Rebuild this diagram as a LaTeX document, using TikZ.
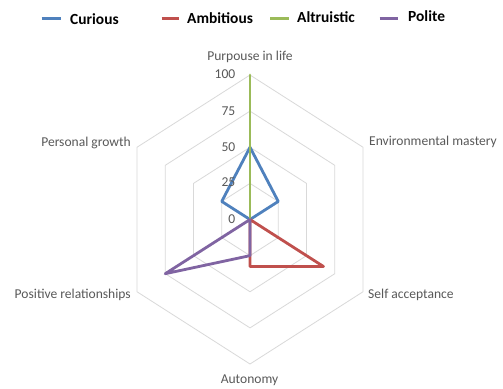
\documentclass[tikz,border=0pt]{standalone}
\usepackage{fontspec}
\setmainfont{Carlito}
\definecolor{sCur}{HTML}{4F81BD}
\definecolor{sAmb}{HTML}{C0504D}
\definecolor{sAlt}{HTML}{9BBB59}
\definecolor{sPol}{HTML}{8064A2}
\definecolor{gridc}{HTML}{D9D9D9}
\definecolor{labc}{HTML}{595959}
\tikzset{
  gridline/.style={draw=gridc, line width=0.8bp, line join=miter},
  series/.style={line width=2.8bp, line join=round, line cap=round},
  axlab/.style={text=labc, font=\fontsize{13.6}{15}\selectfont, inner sep=0pt},
  numlab/.style={text=labc, font=\fontsize{13.6}{15}\selectfont, inner sep=0pt, anchor=east},
  leglab/.style={font=\bfseries\fontsize{15.5}{17}\selectfont, inner sep=0pt, anchor=base west},
  legline/.style={line width=2.8bp}
}
\begin{document}
\begin{tikzpicture}[x=1bp, y=-1bp]
\useasboundingbox (0,0) rectangle (503,388);
\fill[white] (0,0) rectangle (503,388);
\begin{scope}[shift={(250bp,-219.5bp)}, x=1.13bp, y=1.445bp]
  % axis directions: P(0,1) E(1,.5) S(1,-.5) A(0,-1) R(-1,-.5) G(-1,.5)
  \foreach \L in {25,50,75,100}{
    \draw[gridline] (0,\L) -- (\L,0.5*\L) -- (\L,-0.5*\L) -- (0,-\L) -- (-\L,-0.5*\L) -- (-\L,0.5*\L) -- cycle;
  }
  \coordinate (c) at (0,0);
  % Curious
  \coordinate (cuP) at (0,50);
  \coordinate (cuE) at (25,12.5);
  \coordinate (cuG) at (-25,12.5);
  % Ambitious
  \coordinate (amS) at (65,-32.5);
  \coordinate (amA) at (0,-32.5);
  % Altruistic
  \coordinate (alP) at (0,100);
  % Polite
  \coordinate (poR) at (-75,-37.5);
  \coordinate (poA) at (0,-25);
  \draw[series, sCur] (cuP) -- (cuE) -- (c) -- (cuG) -- cycle;
  \draw[series, sAmb] (c) -- (amS) -- (amA) -- cycle;
  \draw[series, sAlt] (c) -- (alP);
  \draw[series, sPol] (c) -- (poA) -- (poR) -- cycle;
\end{scope}
% axis labels
\node[axlab] (lP) at (250,57) {Purpouse in life};
\node[axlab, anchor=west] (lE) at (369,141.7) {Environmental mastery};
\node[axlab, anchor=west] (lS) at (368,294.5) {Self acceptance};
\node[axlab] (lA) at (249.5,380.5) {Autonomy};
\node[axlab, anchor=east] (lR) at (131,295) {Positive relationships};
\node[axlab, anchor=east] (lG) at (131,142.5) {Personal growth};
% scale numbers
\node[numlab] (n100) at (235.5,74) {100};
\node[numlab] (n75) at (235.5,111.5) {75};
\node[numlab] (n50) at (235.5,147.5) {50};
\node[numlab] (n25) at (235.5,182.5) {25};
\node[numlab] (n0) at (235.5,219.5) {0};
% legend
\coordinate (k1a) at (41.5,18.7); \coordinate (k1b) at (61,18.7);
\coordinate (k2a) at (161.5,18.7); \coordinate (k2b) at (178.5,18.7);
\coordinate (k3a) at (270,18.7); \coordinate (k3b) at (288.5,18.7);
\coordinate (k4a) at (379.5,18.7); \coordinate (k4b) at (397.5,18.7);
\draw[legline, sCur] (k1a) -- (k1b);
\draw[legline, sAmb] (k2a) -- (k2b);
\draw[legline, sAlt] (k3a) -- (k3b);
\draw[legline, sPol] (k4a) -- (k4b);
\node[leglab] (t1) at (70,24.3) {Curious};
\node[leglab] (t2) at (187,23.3) {Ambitious};
\node[leglab] (t3) at (297,22.7) {Altruistic};
\node[leglab] (t4) at (408,21.7) {Polite};
\end{tikzpicture}
\end{document}
